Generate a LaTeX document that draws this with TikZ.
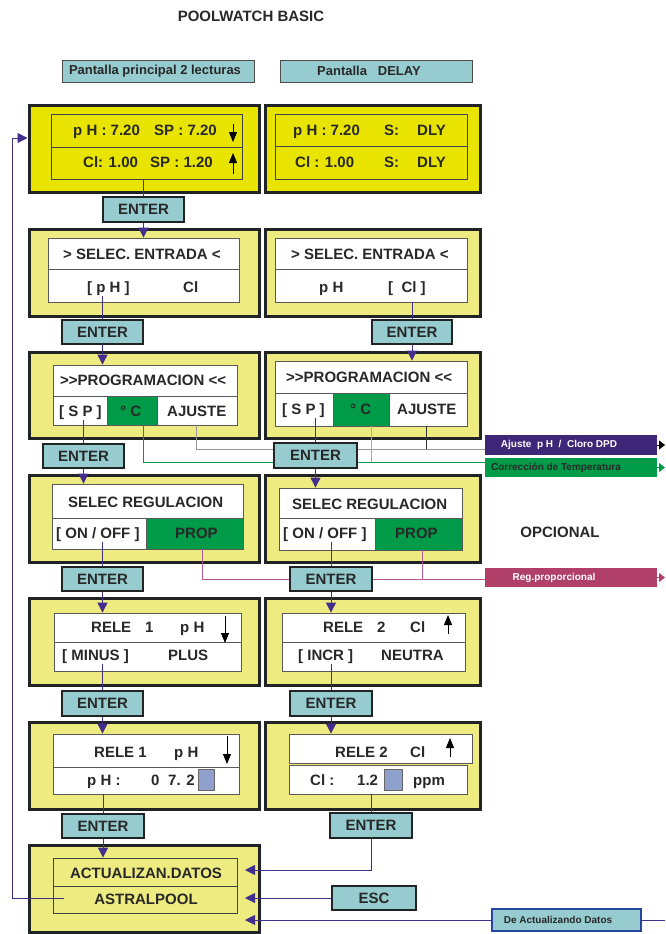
\documentclass[tikz,border=0pt]{standalone}
\usepackage{fontspec}
\setmainfont{Liberation Sans}
\usetikzlibrary{arrows.meta,fit}
\definecolor{byel}{RGB}{232,228,0}
\definecolor{pyel}{RGB}{238,236,128}
\definecolor{cyanb}{RGB}{150,204,208}
\definecolor{grn}{RGB}{0,155,72}
\definecolor{lgrn}{RGB}{120,200,150}
\definecolor{purp}{RGB}{62,38,120}
\definecolor{mag}{RGB}{176,64,104}
\definecolor{magl}{RGB}{180,90,150}
\definecolor{linep}{RGB}{66,46,140}
\definecolor{dk}{RGB}{32,36,36}
\definecolor{txtc}{RGB}{40,40,40}
\definecolor{sq}{RGB}{143,160,204}
\definecolor{gline}{RGB}{150,150,150}
\definecolor{dablue}{RGB}{40,70,160}
\begin{document}
\begin{tikzpicture}[x=1pt,y=-1pt,
 outer/.style={draw=dk,line width=3pt,fill=pyel,inner sep=0pt},
 outerb/.style={outer,fill=byel},
 inbox/.style={draw=black!65,line width=0.8pt,fill=white,inner sep=0pt},
 inboxb/.style={inbox,fill=byel,draw=black!75},
 inboxp/.style={inbox,fill=pyel,draw=black!75},
 cellg/.style={inbox,fill=grn},
 sqbox/.style={draw=black!60,line width=0.6pt,fill=sq,inner sep=0pt},
 enterbox/.style={draw=dk,line width=1.6pt,fill=cyanb,inner sep=0pt},
 etext/.style={font=\bfseries\fontsize{15}{17}\selectfont,text=txtc,inner sep=0pt},
 hdr/.style={draw=black!70,line width=0.8pt,fill=cyanb,inner sep=0pt},
 htext/.style={font=\bfseries\fontsize{13}{15}\selectfont,text=txtc,inner sep=0pt},
 lab/.style={inner sep=0pt,line width=0pt},
 txt/.style={font=\bfseries\fontsize{15}{17}\selectfont,text=txtc,inner sep=0pt,anchor=base west},
 small/.style={font=\bfseries\fontsize{10}{12}\selectfont,inner sep=0pt},
 conn/.style={draw=linep,line width=0.9pt},
 arr/.style={conn,-{Triangle[width=10pt,length=10pt]}},
 glyph/.style={draw=black,line width=0.9pt,-{Triangle[width=8pt,length=10pt]}},
]
\fill[white] (0,0) rectangle (665,934);
\useasboundingbox (0,0) rectangle (665,934);

% title and headers
\node[font=\bfseries\fontsize{15}{17}\selectfont,text=txtc] (title) at (251,16) {POOLWATCH BASIC};
\node[hdr,fit={(62,60)(254,82)}] (H1) {};
\node[htext] (H1t) at (155,71) {Pantalla principal 2 lecturas};
\node[hdr,fit={(280,60)(472,82)}] (H2) {};
\node[htext] (H2t) at (369,71) {Pantalla\ \ \ DELAY};

% outer boxes
\node[outerb,fit={(29,105)(259,192)}] (L1) {};
\node[outerb,fit={(265,105)(480,192)}] (R1) {};
\node[outer,fit={(29,229)(259,316)}] (L2) {};
\node[outer,fit={(265,229)(480,316)}] (R2) {};
\node[outer,fit={(29,352)(259,438)}] (L3) {};
\node[outer,fit={(265,352)(480,438)}] (R3) {};
\node[outer,fit={(29,475)(259,562)}] (L4) {};
\node[outer,fit={(265,475)(480,562)}] (R4) {};
\node[outer,fit={(29,598)(259,685)}] (L5) {};
\node[outer,fit={(265,598)(480,685)}] (R5) {};
\node[outer,fit={(29,722)(259,809)}] (L6) {};
\node[outer,fit={(265,722)(480,809)}] (R6) {};
\node[outer,fit={(29,845)(259,932)}] (L7) {};

% inner displays
\node[inboxb,fit={(51,114)(242,147)}] (L1T) {};
\node[inboxb,fit={(51,147)(242,179)}] (L1B) {};
\node[inboxb,fit={(275,114)(467,146)}] (R1T) {};
\node[inboxb,fit={(275,146)(467,179)}] (R1B) {};
\node[inbox,fit={(48,238)(239,269)}] (L2T) {};
\node[inbox,fit={(48,269)(239,302)}] (L2B) {};
\node[inbox,fit={(275,238)(467,269)}] (R2T) {};
\node[inbox,fit={(275,269)(467,302)}] (R2B) {};
\node[inbox,fit={(53,365)(237,396)}] (L3T) {};
\node[inbox,fit={(53,396)(107,425)}] (L3S) {};
\node[cellg,fit={(107,396)(157,425)}] (L3C) {};
\node[inbox,fit={(157,396)(237,425)}] (L3A) {};
\node[inbox,fit={(275,361)(467,393)}] (R3T) {};
\node[inbox,fit={(275,393)(333,426)}] (R3S) {};
\node[cellg,fit={(333,393)(389,426)}] (R3C) {};
\node[inbox,fit={(389,393)(467,426)}] (R3A) {};
\node[inbox,fit={(52,484)(243,518)}] (L4T) {};
\node[inbox,fit={(52,518)(146,549)}] (L4O) {};
\node[cellg,fit={(146,518)(243,549)}] (L4P) {};
\node[inbox,fit={(279,488)(462,518)}] (R4T) {};
\node[inbox,fit={(279,518)(375,550)}] (R4O) {};
\node[cellg,fit={(375,518)(462,550)}] (R4P) {};
\node[inbox,fit={(54,613)(241,642)}] (L5T) {};
\node[inbox,fit={(54,642)(241,671)}] (L5B) {};
\node[inbox,fit={(282,613)(465,642)}] (R5T) {};
\node[inbox,fit={(282,642)(465,671)}] (R5B) {};
\node[inbox,fit={(53,734)(239,767)}] (L6T) {};
\node[inbox,fit={(53,767)(239,794)}] (L6B) {};
\node[inbox,fit={(289,734)(472,763)}] (R6T) {};
\node[inbox,fit={(289,765)(467,794)}] (R6B) {};
\node[inboxp,fit={(53,858)(237,886)}] (L7T) {};
\node[inboxp,fit={(53,886)(237,913)}] (L7B) {};
\node[sqbox,fit={(198,769)(214,790)}] (SQL) {};
\node[sqbox,fit={(384,769)(402,790)}] (SQR) {};

% texts row 1
\node[txt] (t1a) at (73,135.5) {p H : 7.20};
\node[txt] (t1b) at (154,135.5) {SP : 7.20};
\node[txt] (t1c) at (83,167.5) {Cl: 1.00};
\node[txt] (t1d) at (150,167.5) {SP : 1.20};
\node[txt] (t1e) at (293,135.5) {p H : 7.20};
\node[txt] (t1f) at (384,135.5) {S:};
\node[txt] (t1g) at (417,135.5) {DLY};
\node[txt] (t1h) at (295,167.5) {Cl : 1.00};
\node[txt] (t1i) at (384,167.5) {S:};
\node[txt] (t1j) at (417,167.5) {DLY};
% row 2
\node[txt] (t2a) at (63,259.5) {> SELEC. ENTRADA <};
\node[txt] (t2b) at (87,292.5) {[ p H ]};
\node[txt] (t2c) at (183,292.5) {Cl};
\node[txt] (t2d) at (291,259.5) {> SELEC. ENTRADA <};
\node[txt] (t2e) at (319,292.5) {p H};
\node[txt] (t2f) at (388,292.5) {[\ \ Cl ]};
% row 3
\node[txt] (t3a) at (60,385.5) {>{}>PROGRAMACION <{}<};
\node[txt] (t3b) at (59,416.5) {[ S P ]};
\node[txt] (t3c) at (120,416.5) {° C};
\node[txt] (t3d) at (167,416.5) {AJUSTE};
\node[txt] (t3e) at (286,382.5) {>{}>PROGRAMACION <{}<};
\node[txt] (t3f) at (282,414.5) {[ S P ]};
\node[txt] (t3g) at (350,414.5) {° C};
\node[txt] (t3h) at (397,414.5) {AJUSTE};
% row 4
\node[txt] (t4a) at (68,507.5) {SELEC REGULACION};
\node[txt] (t4b) at (56,538.5) {[ ON / OFF ]};
\node[txt] (t4c) at (175,538.5) {PROP};
\node[txt] (t4d) at (292,509.5) {SELEC REGULACION};
\node[txt] (t4e) at (283,538.5) {[ ON / OFF ]};
\node[txt] (t4f) at (395,538.5) {PROP};
% row 5
\node[txt] (t5a) at (91,632.5) {RELE};
\node[txt] (t5b) at (145,632.5) {1};
\node[txt] (t5c) at (180,632.5) {p H};
\node[txt] (t5d) at (62,660.5) {[ MINUS ]};
\node[txt] (t5e) at (168,660.5) {PLUS};
\node[txt] (t5f) at (323,632.5) {RELE};
\node[txt] (t5g) at (377,632.5) {2};
\node[txt] (t5h) at (410,632.5) {Cl};
\node[txt] (t5i) at (298,660.5) {[ INCR ]};
\node[txt] (t5j) at (381,660.5) {NEUTRA};
% row 6
\node[txt] (t6a) at (94,757.5) {RELE 1};
\node[txt] (t6b) at (174,757.5) {p H};
\node[txt] (t6c) at (87,785.5) {p H :};
\node[txt] (t6d) at (151,785.5) {0};
\node[txt] (t6e) at (168,785.5) {7. 2};
\node[txt] (t6f) at (335,757.5) {RELE 2};
\node[txt] (t6g) at (410,757.5) {Cl};
\node[txt] (t6h) at (310,785.5) {Cl :};
\node[txt] (t6i) at (357,785.5) {1.2};
\node[txt] (t6j) at (413,785.5) {ppm};
% row 7
\node[txt,anchor=center] (t7a) at (146,873) {ACTUALIZAN.DATOS};
\node[txt,anchor=center] (t7b) at (146,899) {ASTRALPOOL};

\node[font=\bfseries\fontsize{15}{17}\selectfont,text=txtc] (opc) at (560,532) {OPCIONAL};

% glyph arrows in displays
\draw[glyph] (233,124) -- (233,142);
\draw[glyph] (233,174) -- (233,153);
\draw[glyph] (225,616) -- (225,643);
\draw[glyph] (227,736) -- (227,764);
\draw[glyph] (448,634) -- (448,615);
\draw[glyph] (450,757) -- (450,738);

% optional side boxes
\node[lab,fill=purp,fit={(485,435)(657,455)}] (AJ) {};
\node[small,text=white] (AJt) at (559,445) {Ajuste\ \ p H\ \ /\ \ Cloro DPD};
\node[lab,fill=grn,fit={(485,458)(657,477)}] (CT) {};
\node[small,text=txtc] (CTt) at (556,467.5) {Corrección de Temperatura};
\node[lab,fill=mag,fit={(485,568)(657,587)}] (RP) {};
\node[small,text=white] (RPt) at (554,577.5) {Reg.proporcional};
\coordinate (ajE) at (665,445);
\coordinate (ctE) at (665,467.5);
\coordinate (rpE) at (665,577.5);
\draw[black,line width=0.8pt,-{Triangle[width=9pt,length=6pt]}] (AJ.east) -- (ajE);
\draw[grn,line width=0.8pt,-{Triangle[width=9pt,length=6pt]}] (CT.east) -- (ctE);
\draw[mag,line width=0.8pt,-{Triangle[width=9pt,length=6pt]}] (RP.east) -- (rpE);

% option lines (behind ENTER boxes)
\coordinate (gA) at (485,449);
\coordinate (gB) at (485,462);
\coordinate (mB) at (485,579);
\coordinate (gr0) at (143,425);
\coordinate (gr1) at (371,426);
\coordinate (mg0) at (202,549);
\coordinate (mg1) at (422,550);
\draw[gline,line width=0.9pt] (L3A.south -| t3d) |- (gA);
\draw[black!80,line width=0.9pt] (R3A.south -| t3h) -- (t3h |- gA);
\draw[grn,line width=0.9pt] (gr0) |- (gB);
\draw[lgrn,line width=0.9pt] (gr1) -- (gr1 |- gB);
\draw[magl,line width=0.9pt] (mg0) |- (mB);
\draw[magl,line width=0.9pt] (mg1) -- (mg1 |- mB);

% ENTER / ESC boxes
\node[enterbox,fit={(103,197)(184,222)},label={[etext]center:ENTER}] (E1) {};
\node[enterbox,fit={(62,320)(143,344)},label={[etext]center:ENTER}] (E2L) {};
\node[enterbox,fit={(372,320)(452,344)},label={[etext]center:ENTER}] (E2R) {};
\node[enterbox,fit={(43,444)(124,468)},label={[etext]center:ENTER}] (E3L) {};
\node[enterbox,fit={(274,443)(357,468)},label={[etext]center:ENTER}] (E3R) {};
\node[enterbox,fit={(62,567)(143,591)},label={[etext]center:ENTER}] (E4L) {};
\node[enterbox,fit={(290,567)(372,591)},label={[etext]center:ENTER}] (E4R) {};
\node[enterbox,fit={(62,691)(143,716)},label={[etext]center:ENTER}] (E5L) {};
\node[enterbox,fit={(290,691)(372,716)},label={[etext]center:ENTER}] (E5R) {};
\node[enterbox,fit={(62,814)(144,838)},label={[etext]center:ENTER}] (E6L) {};
\node[enterbox,fit={(330,813)(412,838)},label={[etext]center:ENTER}] (E6R) {};
\node[enterbox,fit={(332,886)(416,910)},label={[etext]center:ESC}] (ESC) {};
\node[enterbox,draw=dablue,line width=1.2pt,fit={(492,909)(641,931)}] (DA) {};
\node[small,text=txtc] (DAt) at (558,920) {De Actualizando Datos};

% main connectors
\draw[conn] (L1B.south -| E1.north) -- (E1.north);
\draw[arr] (E1.south) -- (L2T.north -| E1.south);
\draw[conn] (t2b.south -| E2L.north) -- (E2L.north);
\draw[arr] (E2L.south) -- (L3T.north -| E2L.south);
\draw[conn] (R2B.south -| E2R.north) -- (E2R.north);
\draw[arr] (E2R.south) -- (R3T.north -| E2R.south);
\draw[conn] (t3b.south -| E3L.north) -- (E3L.north);
\draw[arr] (E3L.south) -- (L4T.north -| E3L.south);
\draw[conn] (t3f.south -| E3R.north) -- (E3R.north);
\draw[arr] (E3R.south) -- (R4T.north -| E3R.south);
\draw[conn] (t4b.south -| E4L.north) -- (E4L.north);
\draw[arr] (E4L.south) -- (L5T.north -| E4L.south);
\draw[conn] (t4e.south -| E4R.north) -- (E4R.north);
\draw[arr] (E4R.south) -- (R5T.north -| E4R.south);
\draw[conn] (t5d.south -| E5L.north) -- (E5L.north);
\draw[arr] (E5L.south) -- (L6T.north -| E5L.south);
\draw[conn] (t5i.south -| E5R.north) -- (E5R.north);
\draw[arr] (E5R.south) -- (R6T.north -| E5R.south);
\draw[conn] (L6B.south -| E6L.north) -- (E6L.north);
\draw[arr] (E6L.south) -- (L7T.north -| E6L.south);
\draw[conn] (R6B.south -| E6R.north) -- (E6R.north);
\coordinate (c7a) at (245,870);
\draw[arr] (E6R.south) |- (c7a);
\draw[arr] (ESC.west) -- (ESC.west -| c7a);
\coordinate (c7r) at (665,920);
\draw[conn] (c7r) -- (DA.east);
\draw[arr] (DA.west) -- (DA.west -| c7a);
\coordinate (fb0) at (64,898);
\coordinate (fbc) at (12,138);
\draw[arr] (fb0) -| (fbc) -- (L1.west |- fbc);
\end{tikzpicture}
\end{document}
